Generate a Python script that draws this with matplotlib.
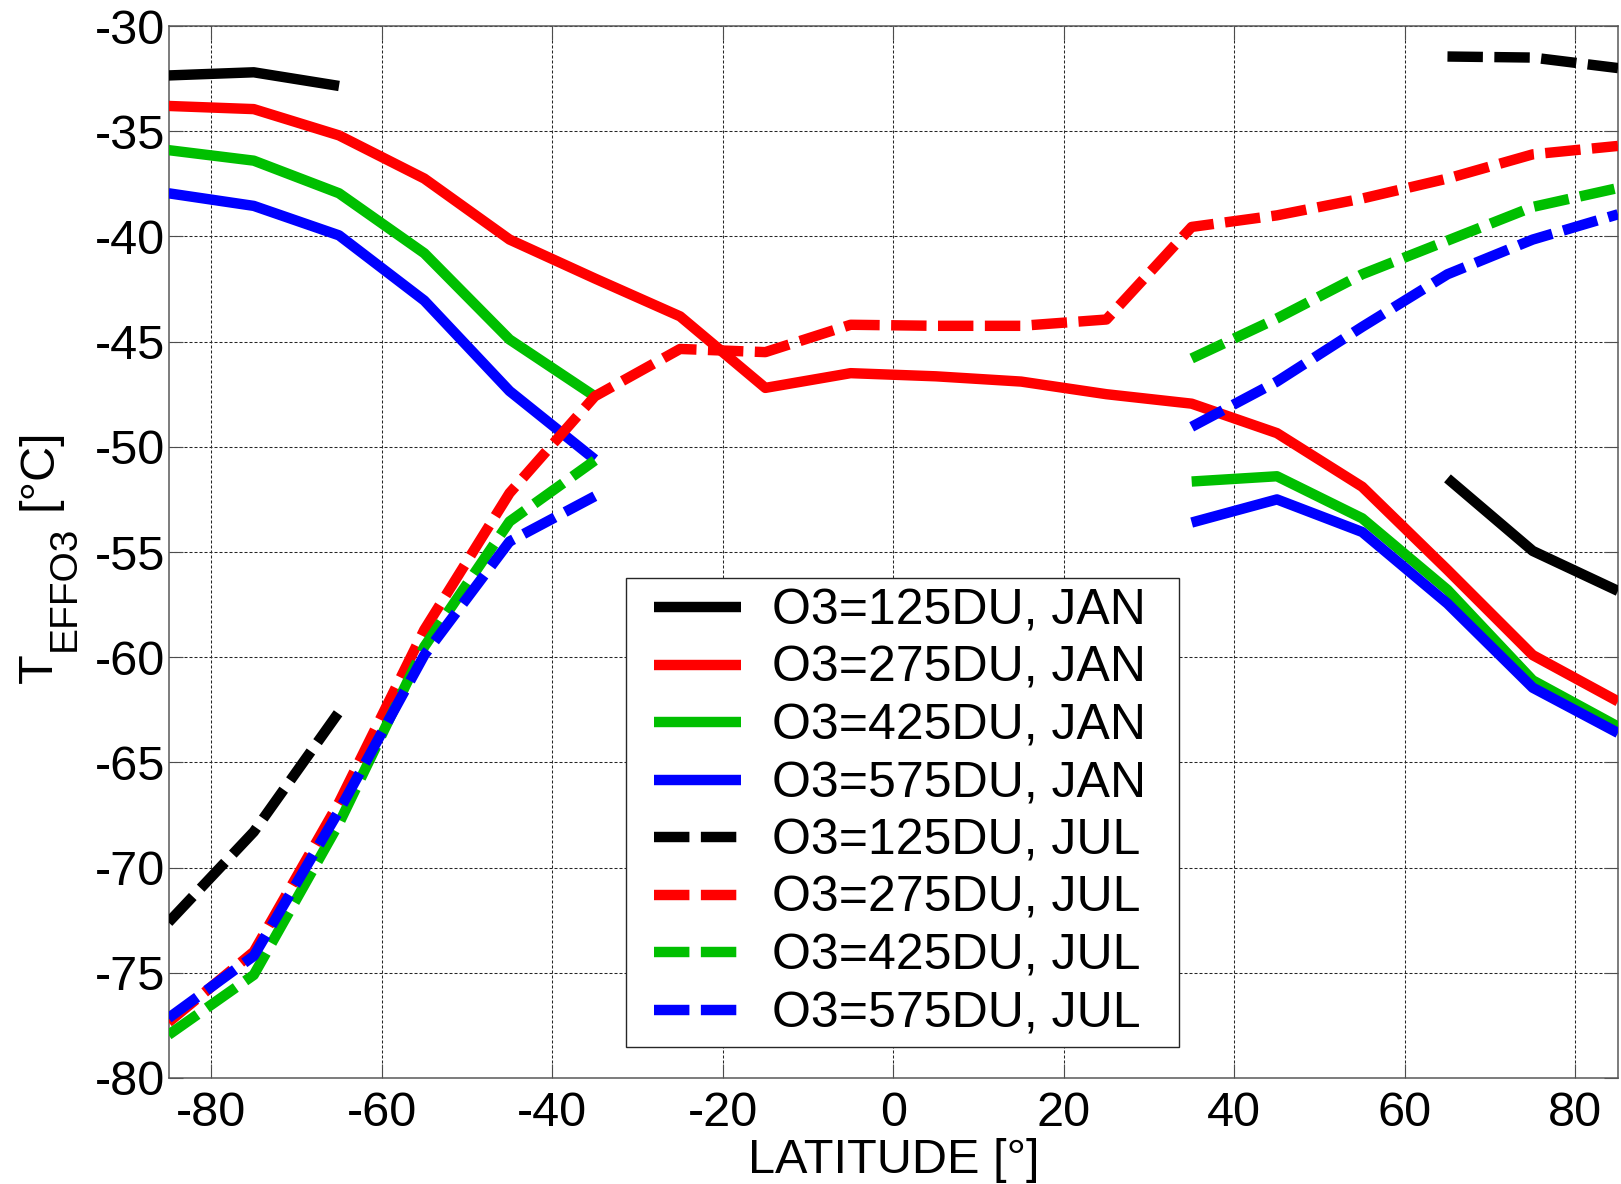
import matplotlib
matplotlib.use("Agg")
import matplotlib.pyplot as plt
import numpy as np
from matplotlib.patches import Rectangle

plt.rcParams["font.family"] = ["Liberation Sans", "DejaVu Sans"]

nan = np.nan

# Breitengrade der Modellpunkte
lat = [-85, -75, -65, -55, -45, -35, -25, -15, -5, 5, 15, 25, 35, 45, 55, 65, 75, 85]

# effektive Ozontemperatur [°C], Januar
jan_125 = [-32.35, -32.2, -32.85] + [nan] * 12 + [-51.5, -54.95, -56.85]
jan_275 = [-33.8, -33.95, -35.2, -37.25, -40.15, -42.0, -43.8, -47.2, -46.5,
           -46.65, -46.9, -47.5, -47.95, -49.35, -51.9, -55.85, -59.9, -62.1]
jan_425 = [-35.9, -36.4, -37.95, -40.8, -44.9, -47.6] + [nan] * 6 + \
          [-51.65, -51.4, -53.4, -56.8, -61.1, -63.3]
jan_575 = [-37.95, -38.55, -39.95, -43.05, -47.35, -50.6] + [nan] * 6 + \
          [-53.6, -52.5, -54.05, -57.45, -61.45, -63.6]

# Juli
jul_125 = [-72.6, -68.3, -62.6] + [nan] * 12 + [-31.45, -31.5, -32.0]
jul_275 = [-77.35, -74.0, -66.9, -58.7, -52.2, -47.6, -45.35, -45.5, -44.2,
           -44.25, -44.25, -43.95, -39.55, -39.0, -38.2, -37.25, -36.1, -35.7]
jul_425 = [-77.95, -75.1, -67.9, -59.5, -53.55, -50.65] + [nan] * 6 + \
          [-45.8, -43.9, -41.8, -40.2, -38.6, -37.7]
jul_575 = [-77.15, -74.2, -67.3, -59.9, -54.5, -52.35] + [nan] * 6 + \
          [-49.05, -46.9, -44.3, -41.8, -40.15, -38.95]

labels = ["O3=125DU, JAN", "O3=275DU, JAN", "O3=425DU, JAN", "O3=575DU, JAN",
          "O3=125DU, JUL", "O3=275DU, JUL", "O3=425DU, JUL", "O3=575DU, JUL"]
farben = ["#000000", "#ff0000", "#00bf00", "#0000ff"]

xticks = [-80, -60, -40, -20, 0, 20, 40, 60, 80]
yticks = [-80, -75, -70, -65, -60, -55, -50, -45, -40, -35, -30]

W, H = 1621, 1184
fig = plt.figure(figsize=(W / 100, H / 100), dpi=100)
ax = fig.add_axes([168.5 / W, 106 / H, 1449.5 / W, 1052 / H])

fs = 35
lw = 7.5

kurven = [jan_125, jan_275, jan_425, jan_575, jul_125, jul_275, jul_425, jul_575]
for i, y in enumerate(kurven):
    farbe = farben[i % 4]
    if i < 4:
        ax.plot(lat, y, color=farbe, lw=lw, solid_capstyle="butt",
                label=labels[i], zorder=3)
    else:
        ax.plot(lat, y, color=farbe, lw=lw, dashes=(3.4, 1.1),
                dash_capstyle="butt", label=labels[i], zorder=3)

ax.set_xlim(-85, 85)
ax.set_ylim(-80, -30)
ax.set_xticks(xticks)
ax.set_yticks(yticks)
ax.set_xticklabels([str(v) for v in xticks])
ax.set_yticklabels([str(v) for v in yticks])

ax.grid(True, color="0.15", lw=0.75, linestyle=(0, (2.9, 1.9)), zorder=1)
ax.set_axisbelow(True)
ax.tick_params(axis="both", direction="in", length=10, width=0.8,
               color="0.3", labelsize=fs, top=True, right=True)
ax.tick_params(axis="x", pad=9.5)
ax.tick_params(axis="y", pad=2.6)
for s in ax.spines.values():
    s.set_color("0.35")
    s.set_linewidth(1.1)

ax.set_xlabel("LATITUDE [°]", fontsize=fs)
ax.xaxis.set_label_coords(0.5, -0.057)

# y-Achsenbeschriftung mit tiefgestelltem Index
fig.text(51.7 / W, 1 - 683 / H, "T", fontsize=fs, rotation=90,
         rotation_mode="anchor", ha="left", va="baseline")
fig.text(75 / W, 1 - 651 / H, "EFFO3", fontsize=28, rotation=90,
         rotation_mode="anchor", ha="left", va="baseline")
fig.text(51.7 / W, 1 - 510 / H, "[°C]", fontsize=fs, rotation=90,
         rotation_mode="anchor", ha="left", va="baseline")

# Legendenrahmen
bx0 = (626 - 168.5) / 1449.5
bx1 = (1178.5 - 168.5) / 1449.5
by0 = (1078 - 1047) / 1052
by1 = (1078 - 577.5) / 1052
ax.add_patch(Rectangle((bx0, by0), bx1 - bx0, by1 - by0, transform=ax.transAxes,
                       facecolor="white", edgecolor="0.15", lw=1.0, zorder=4))

ax.legend(loc="upper left", bbox_to_anchor=((654 - 168.5) / 1449.5, (1078 - 588.5) / 1052),
          frameon=False, fontsize=36, handlelength=1.73, handletextpad=0.62,
          labelspacing=0.23, borderpad=0, borderaxespad=0)

fig.savefig("out.png", dpi=100)
